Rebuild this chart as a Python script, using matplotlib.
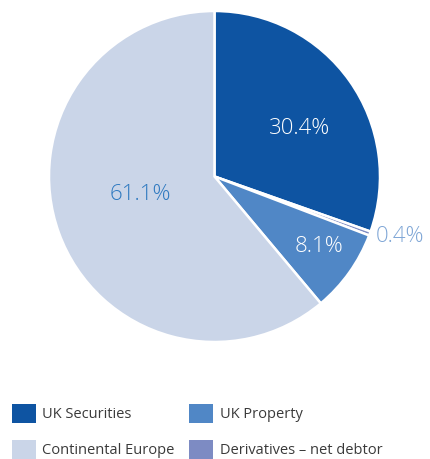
import numpy as np
import matplotlib.pyplot as plt
from matplotlib.patches import Patch

# pie data, clockwise from 12 o'clock
labels = ['UK Securities', 'Derivatives – net debtor', 'UK Property', 'Continental Europe']
shares = [30.4, 0.4, 8.1, 61.1]
colors = ['#0E54A2', '#7D8BC3', '#5087C6', '#CAD5E8']
pct_colors = ['white', '#7FA6D6', 'white', '#2E79C0']
pct_radius = [0.59, 1.18, 0.76, 0.46]
pct_nudge = [-6, 2.4, 1.5, -6]  # degrees off the wedge middle

plt.rcParams['font.family'] = ['Open Sans', 'DejaVu Sans']

fig = plt.figure(figsize=(4.30, 4.59), dpi=100)
ax = fig.add_axes([49 / 430, 117 / 459, 331 / 430, 331 / 459])

wedges, _, pcts = ax.pie(
    shares, colors=colors, startangle=90, counterclock=False,
    autopct='%.1f%%', radius=1.0,
    wedgeprops=dict(edgecolor='white', linewidth=1.8),
)

# move the percent labels to where the reference has them
for w, t, r, d, c in zip(wedges, pcts, pct_radius, pct_nudge, pct_colors):
    mid = np.deg2rad((w.theta1 + w.theta2) / 2 + d)
    t.set_position((r * np.cos(mid), r * np.sin(mid)))
    t.set_color(c)
    t.set_fontsize(16)
    t.set_fontweight('light')

ax.set_xlim(-1, 1)
ax.set_ylim(-1, 1)
ax.set_aspect('equal')
ax.axis('off')

# legend: row 1 UK Securities / UK Property, row 2 Continental Europe / Derivatives
order = [0, 3, 2, 1]
handles = [Patch(facecolor=colors[i], edgecolor='none') for i in order]
fig.legend(
    handles, [labels[i] for i in order], ncol=2,
    loc='upper left', bbox_to_anchor=(0 / 430, 1 - 392 / 459),
    frameon=False, fontsize=10.5, labelcolor='#3A3A3A',
    handlelength=1.65, handleheight=1.65, handletextpad=0.45,
    labelspacing=1.15, columnspacing=1.0, borderpad=0.3,
)

fig.savefig('out.png', dpi=100)
